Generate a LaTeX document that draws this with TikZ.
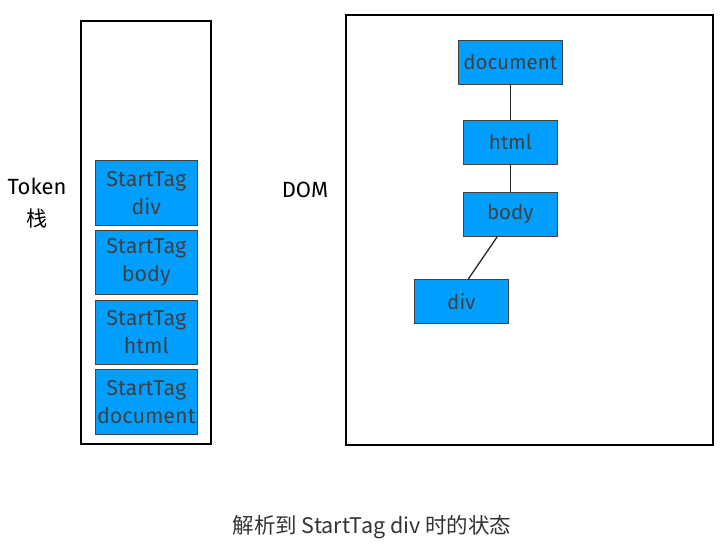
\documentclass[tikz,border=0pt]{standalone}
\usepackage{fontspec}
\setmainfont{Fira Sans}
\newfontfamily\cjk{Noto Sans CJK SC}
\usetikzlibrary{positioning}
\definecolor{boxblue}{RGB}{0,159,255}
\definecolor{txtgray}{RGB}{64,64,64}
\definecolor{capgray}{RGB}{51,51,51}
\begin{document}
\begin{tikzpicture}[x=1pt,y=-1pt,
  frame/.style={draw=black,line width=1.8pt},
  tok/.style={draw=txtgray,line width=0.6pt,fill=boxblue,text=txtgray,minimum width=102pt,minimum height=65pt,align=center,font=\fontsize{21.5}{28}\selectfont,anchor=north west,inner sep=0pt},
  dom/.style={draw=txtgray,line width=0.6pt,fill=boxblue,text=txtgray,minimum width=94pt,minimum height=44pt,font=\fontsize{20.5}{24}\selectfont,anchor=north west,inner sep=0pt},
  lbl/.style={text=black,font=\fontsize{22}{26}\selectfont,inner sep=0pt},
  link/.style={draw=black!85,line width=1.3pt}]
\useasboundingbox (0,0) rectangle (727,544);
% frames
\draw[frame] (81,21) rectangle (211,444);
\draw[frame] (346,15) rectangle (713,445);
% labels
\node[lbl] (token) at (37,186) {Token};
\node[lbl,font=\cjk\fontsize{21}{24}\selectfont] (zhan) at (37,219) {栈};
\node[lbl] (domlbl) at (305,190) {DOM};
% token stack
\node[tok] (t1) at (95,160) {StartTag\\div};
\node[tok,minimum height=64pt] (t2) at (95,230) {StartTag\\body};
\node[tok,minimum height=64pt] (t3) at (95,300) {StartTag\\html};
\node[tok] (t4) at (95,369) {StartTag\\document};
% dom tree
\node[dom,minimum width=104pt] (document) at (458,40) {document};
\node[dom] (html) at (463,120) {html};
\node[dom] (body) at (463,192) {body};
\node[dom] (div) at (414,279) {div};
\draw[link] (document.south) -- (html.north);
\draw[link] (html.south) -- (body.north);
\draw[link] ([xshift=-13pt]body.south) -- ([xshift=7pt]div.north);
% caption
\node[text=capgray,font=\cjk\fontsize{21.5}{26}\selectfont,inner sep=0pt] (cap) at (372,527) {解析到 StartTag div 时的状态};
\end{tikzpicture}
\end{document}
